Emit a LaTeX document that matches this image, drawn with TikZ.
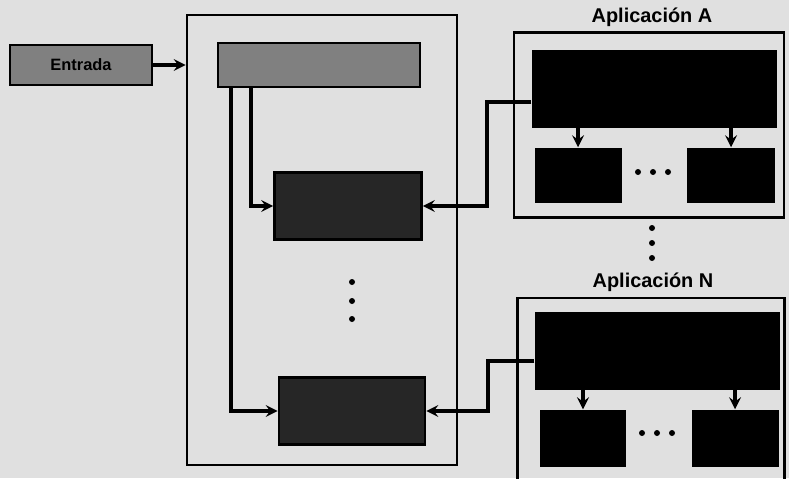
\documentclass[tikz,border=0pt]{standalone}
\usepackage{fontspec}
\setmainfont{Liberation Sans}
\usepackage{tikz}
\usetikzlibrary{shapes,arrows,positioning}

\begin{document}
\begin{tikzpicture}[
    x=0.03cm, y=-0.03cm,
    caja/.style={draw, rectangle, line width=2.2pt, inner sep=0pt},
    grisbox/.style={caja, fill=black!50, font=\bfseries\fontsize{14}{16}\selectfont},
    oscurobox/.style={caja, fill=black!85},
    negrobox/.style={rectangle, fill=black, inner sep=0pt},
    marco/.style={draw, rectangle, line width=2.2pt, inner sep=0pt},
    flecha/.style={->, line width=3.4pt, >=stealth},
    titulo/.style={font=\bfseries\fontsize{17}{19}\selectfont}
]
\useasboundingbox[fill=black!12] (0,0) rectangle (789,478);

% bloque central
\node[marco, minimum width=270*0.03cm, minimum height=450*0.03cm] (bloque) at (322,240) {};
\node[grisbox, minimum width=142*0.03cm, minimum height=40*0.03cm] (entrada) at (81,65) {Entrada};
\node[grisbox, minimum width=202*0.03cm, minimum height=44*0.03cm] (sis) at (319,65) {};
\node[oscurobox, minimum width=147*0.03cm, minimum height=67*0.03cm] (p1) at (348,206) {};
\node[oscurobox, minimum width=146*0.03cm, minimum height=67*0.03cm] (pN) at (352,411) {};
\foreach \y in {282,301,319}
    \fill (352,\y) circle (3);

% aplicacion A
\node[titulo] (tA) at (652,17) {Aplicación A};
\node[marco, minimum width=270*0.03cm, minimum height=185*0.03cm] (appA) at (649,125) {};
\node[negrobox, minimum width=245*0.03cm, minimum height=78*0.03cm] (atop) at (654,89) {};
\node[negrobox, minimum width=87*0.03cm, minimum height=55*0.03cm] (aizq) at (578,175) {};
\node[negrobox, minimum width=88*0.03cm, minimum height=55*0.03cm] (ader) at (731,175) {};
\foreach \x in {638,653,668}
    \fill (\x,172) circle (3);

\foreach \y in {228,243,258}
    \fill (652,\y) circle (3);

% aplicacion N
\node[titulo] (tN) at (653,282) {Aplicación N};
\node[marco, minimum width=267*0.03cm, minimum height=192*0.03cm] (appN) at (651,394) {};
\node[negrobox, minimum width=245*0.03cm, minimum height=78*0.03cm] (ntop) at (657,351) {};
\node[negrobox, minimum width=86*0.03cm, minimum height=57*0.03cm] (nizq) at (583,438) {};
\node[negrobox, minimum width=87*0.03cm, minimum height=57*0.03cm] (nder) at (735,438) {};
\foreach \x in {642,657,672}
    \fill (\x,433) circle (3);

% conexiones
\coordinate (c1) at (231,0);
\coordinate (c2) at (251,0);
\coordinate (ka) at (487,102);
\coordinate (kn) at (488,361);
\draw[flecha] (entrada) -- (entrada -| bloque.west);
\draw[flecha] (sis.south -| c1) |- (pN.west);
\draw[flecha] (sis.south -| c2) |- (p1.west);
\draw[flecha] (atop.west |- ka) -- (ka) |- (p1.east);
\draw[flecha] (ntop.west |- kn) -- (kn) |- (pN.east);
\draw[flecha] (atop.south -| aizq) -- (aizq.north);
\draw[flecha] (atop.south -| ader) -- (ader.north);
\draw[flecha] (ntop.south -| nizq) -- (nizq.north);
\draw[flecha] (ntop.south -| nder) -- (nder.north);
\end{tikzpicture}
\end{document}
